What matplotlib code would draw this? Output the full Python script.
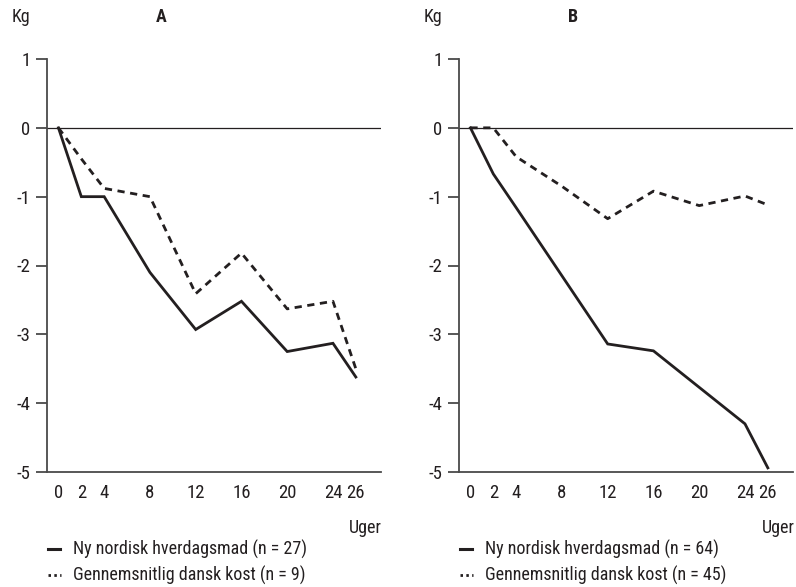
import matplotlib
matplotlib.use("Agg")
import matplotlib.pyplot as plt
from matplotlib import font_manager as fm
from matplotlib.lines import Line2D

names = {f.name for f in fm.fontManager.ttflist}
fam = [n for n in ["Roboto Condensed", "Liberation Sans Narrow", "Open Sans Condensed", "Roboto", "DejaVu Sans"] if n in names]
plt.rcParams['font.family'] = fam

weeks = [0, 2, 4, 8, 12, 16, 20, 24, 26]
tick_labels = ["0", "2", "4", "8", "12", "16", "20", "24", "26"]
yticks = [1, 0, -1, -2, -3, -4, -5]

a_nordic = [0, -1.0, -1.0, -2.1, -2.93, -2.52, -3.25, -3.13, -3.62]
a_danish = [0, -0.45, -0.88, -1.0, -2.41, -1.82, -2.63, -2.52, -3.5]
b_nordic = [0, -0.67, -1.16, -2.15, -3.14, -3.24, -3.77, -4.3, -4.94]
b_danish = [0, 0.0, -0.42, -0.85, -1.32, -0.92, -1.13, -0.99, -1.12]

panels = [
    ("A", a_nordic, a_danish, "Ny nordisk hverdagsmad (n = 27)", "Gennemsnitlig dansk kost (n = 9)"),
    ("B", b_nordic, b_danish, "Ny nordisk hverdagsmad (n = 64)", "Gennemsnitlig dansk kost (n = 45)"),
]

W, H = 796, 587
fig = plt.figure(figsize=(W / 100, H / 100), dpi=100)
ink = "#231f20"
spine_c = "#4a4a4a"

lefts = [47, 459]
for i, (lab, nord, dan, l1, l2) in enumerate(panels):
    left = lefts[i]
    width = 334
    top, bottom = 59, 472
    ax = fig.add_axes([left / W, 1 - bottom / H, width / W, (bottom - top) / H])
    ax.set_xlim(-1, 28.2)
    ax.set_ylim(-5, 1)
    for s in ["top", "right"]:
        ax.spines[s].set_visible(False)
    for s in ["left", "bottom"]:
        ax.spines[s].set_color(spine_c)
        ax.spines[s].set_linewidth(1.3)
    ax.set_yticks(yticks)
    ax.set_yticklabels([str(v) for v in yticks])
    ax.tick_params(axis="y", length=8, width=1.3, color=spine_c, pad=4, labelsize=13.5, labelcolor=ink)
    ax.set_xticks(weeks)
    ax.set_xticklabels(tick_labels)
    ax.tick_params(axis="x", length=0, pad=9, labelsize=13.5, labelcolor=ink)
    ax.axhline(0, color=ink, lw=0.9, zorder=1)
    ax.plot(weeks, nord, color=ink, lw=2.0, solid_joinstyle="miter", zorder=3)
    ax.plot(weeks, dan, color=ink, lw=2.0, dashes=(2.6, 2.0), zorder=3)
    for sp in ax.spines.values():
        sp.set_clip_on(False)

    ox = 0 if i == 0 else 412
    fig.text((ox + 12) / W, 1 - 17 / H, "Kg", fontsize=13, color=ink, va="center", ha="left")
    fig.text((ox + 161) / W, 1 - 17 / H, lab, fontsize=13, fontweight="bold", color=ink, va="center", ha="center")
    ux = 382 if i == 0 else 795
    fig.text(ux / W, 1 - 528 / H, "Uger", fontsize=13, color=ink, va="center", ha="right")
    lx = 48 if i == 0 else 460
    fig.add_artist(Line2D([lx / W, (lx + 12) / W], [1 - 549 / H] * 2, color=ink, lw=2.2))
    fig.add_artist(Line2D([lx / W, (lx + 13) / W], [1 - 575 / H] * 2, color=ink, lw=2.0,
                          dashes=(0.9, 1.2), dash_capstyle="butt"))
    fig.text((lx + 25) / W, 1 - 549 / H, l1, fontsize=13, color=ink, va="center", ha="left")
    fig.text((lx + 25) / W, 1 - 575 / H, l2, fontsize=13, color=ink, va="center", ha="left")

fig.savefig("out.png", dpi=100, facecolor="white")
